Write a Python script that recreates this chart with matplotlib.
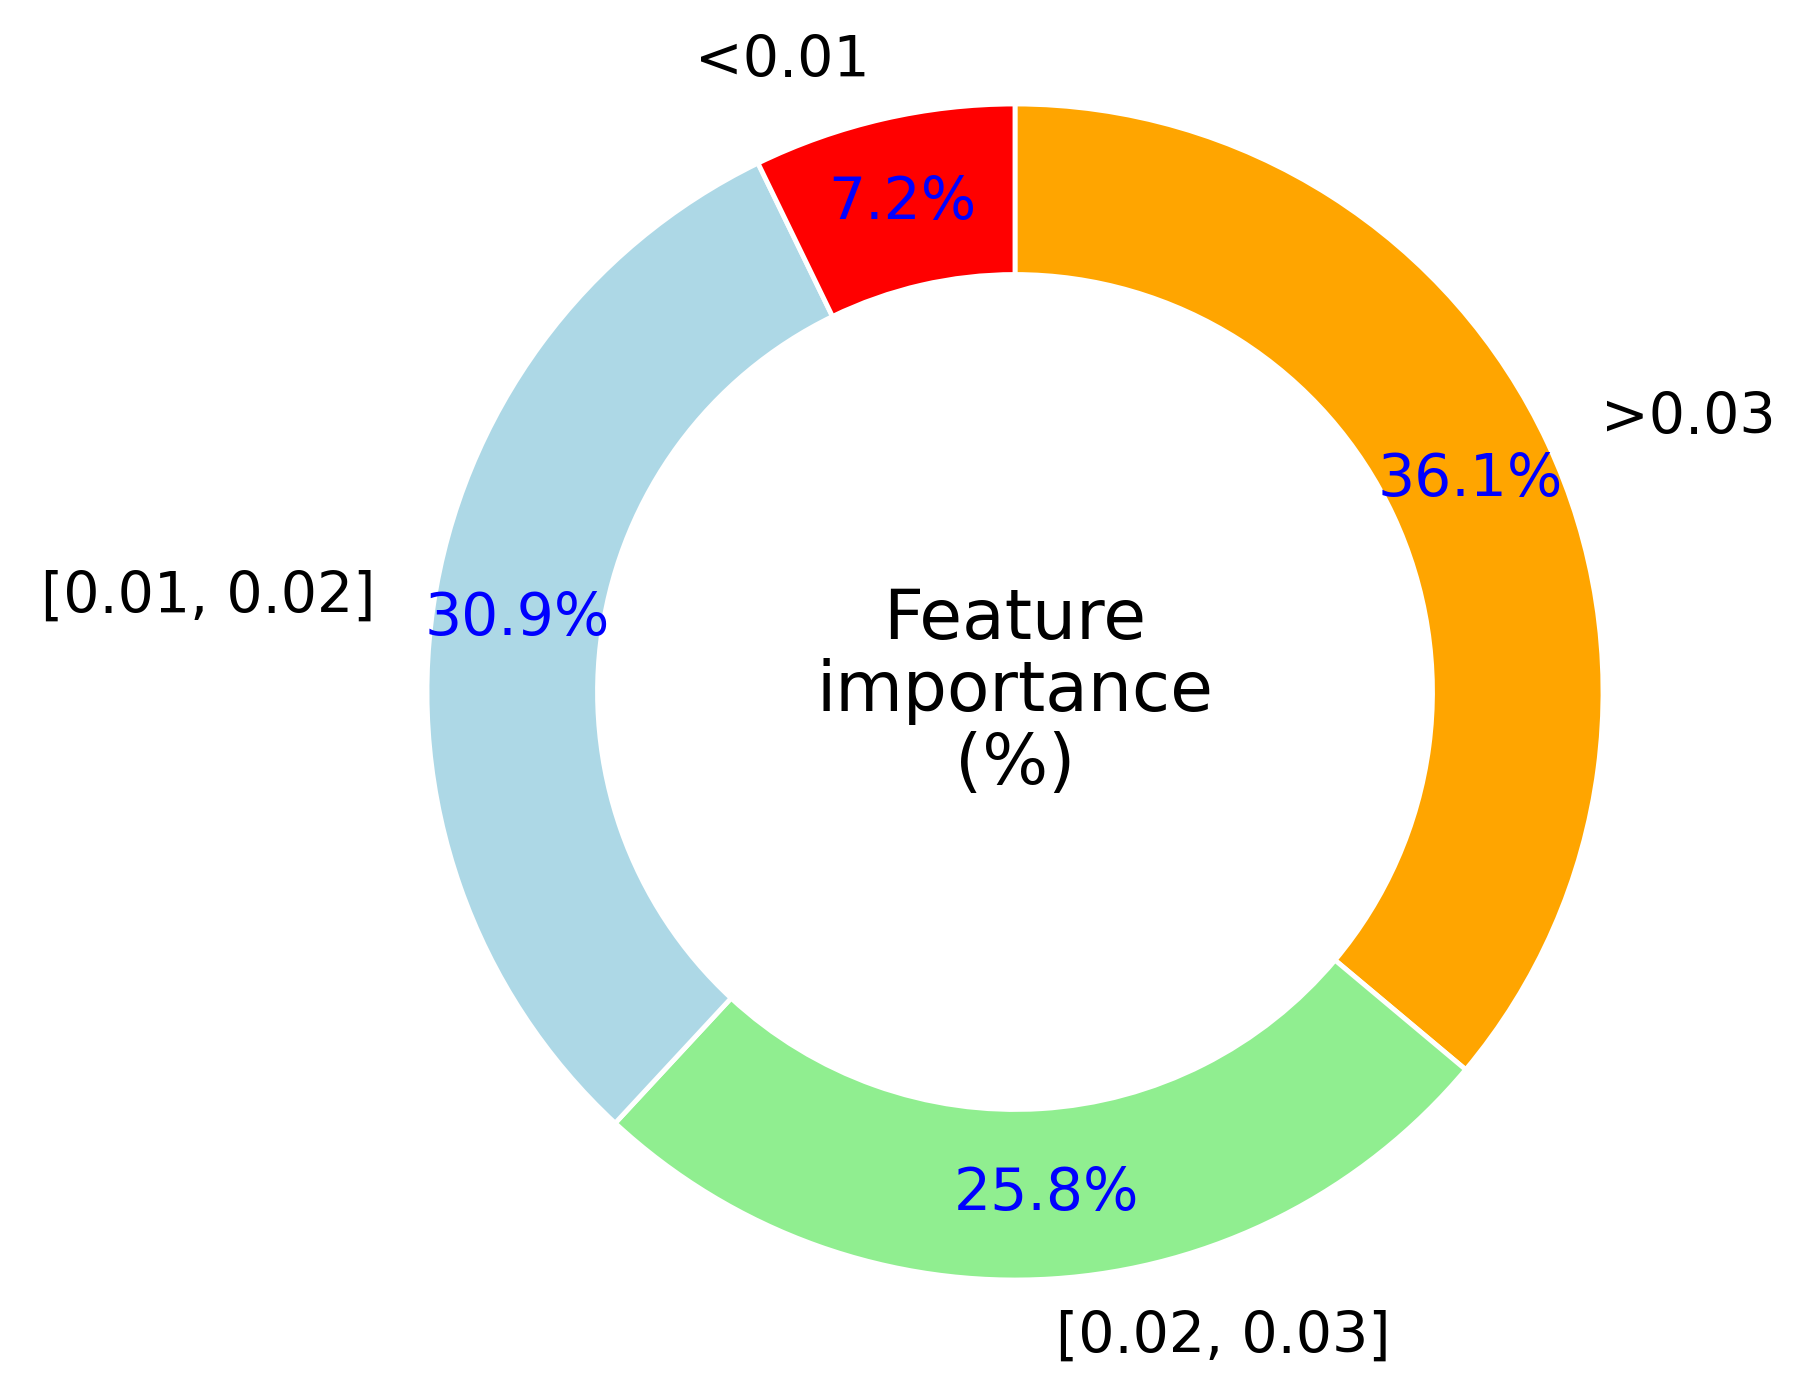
import matplotlib
matplotlib.use("Agg")
import matplotlib.pyplot as plt

labels = [">0.03", "[0.02, 0.03]", "[0.01, 0.02]", "<0.01"]
values = [36.1, 25.8, 30.9, 7.2]
colors = ["orange", "lightgreen", "lightblue", "red"]

W, H = 1807, 1392
fig = plt.figure(figsize=(W/100, H/100), dpi=100)
cx, cy, r = 1015, 692, 588
ax = fig.add_axes([(cx - r)/W, 1 - (cy + r)/H, 2*r/W, 2*r/H])
wedges, texts, autotexts = ax.pie(
    values, labels=labels, colors=colors, startangle=90, counterclock=False,
    autopct="%1.1f%%", pctdistance=0.855, labeldistance=1.1,
    wedgeprops=dict(width=0.29, edgecolor="white", linewidth=3.5),
    textprops=dict(fontsize=41))
for t in autotexts:
    t.set_color("blue")
    t.set_fontsize(42)
ax.set_xlim(-1, 1)
ax.set_ylim(-1, 1)
ax.set_aspect("equal")
ax.text(0, 0, "Feature\nimportance\n(%)", ha="center", va="center", fontsize=50,
        linespacing=1.1)
fig.savefig("out.png", dpi=100)
